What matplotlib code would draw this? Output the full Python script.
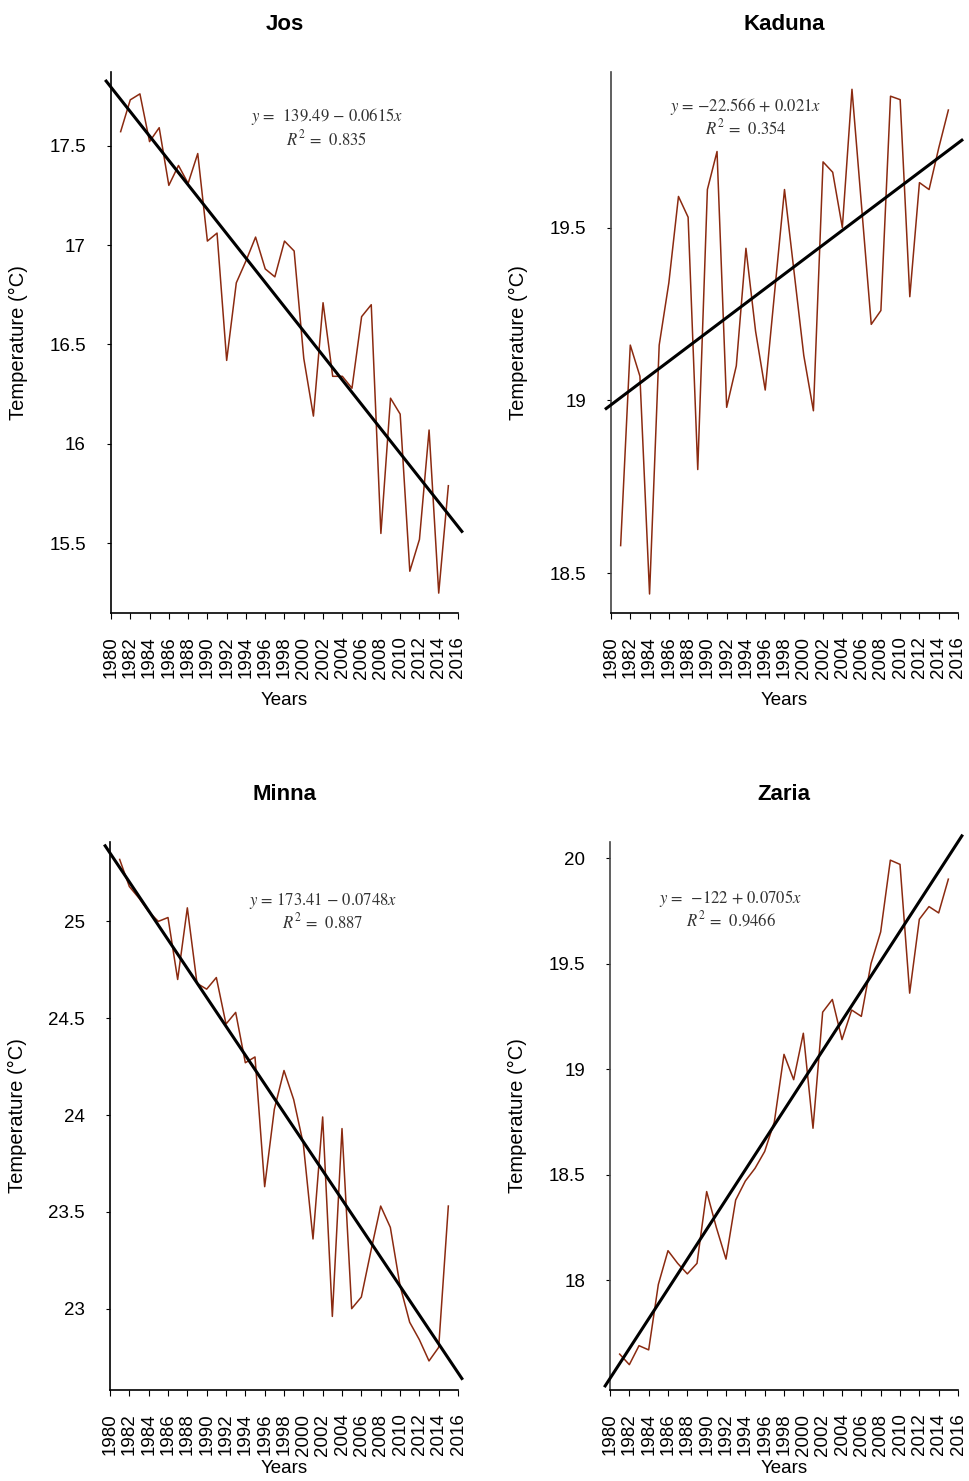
import numpy as np
import matplotlib
matplotlib.use("Agg")
import matplotlib.pyplot as plt
from matplotlib.ticker import FuncFormatter

plt.rcParams['font.family'] = ['Liberation Sans', 'DejaVu Sans']
plt.rcParams['mathtext.fontset'] = 'stix'

years = list(range(1981, 2016))
tick_years = list(range(1980, 2017, 2))

jos = [17.57, 17.73, 17.76, 17.52, 17.59, 17.30, 17.40, 17.31, 17.46, 17.02,
       17.06, 16.42, 16.81, 16.92, 17.04, 16.88, 16.84, 17.02, 16.97, 16.43,
       16.14, 16.71, 16.34, 16.34, 16.28, 16.64, 16.70, 15.55, 16.23, 16.15,
       15.36, 15.52, 16.07, 15.25, 15.79]

kaduna = [18.58, 19.16, 19.07, 18.44, 19.16, 19.34, 19.59, 19.53, 18.80, 19.61,
          19.72, 18.98, 19.10, 19.44, 19.20, 19.03, 19.32, 19.61, 19.37, 19.13,
          18.97, 19.69, 19.66, 19.50, 19.90, 19.56, 19.22, 19.26, 19.88, 19.87,
          19.30, 19.63, 19.61, 19.73, 19.84]

minna = [25.32, 25.18, 25.12, 25.05, 25.00, 25.02, 24.70, 25.07, 24.68, 24.65,
         24.71, 24.47, 24.53, 24.27, 24.30, 23.63, 24.03, 24.23, 24.08, 23.85,
         23.36, 23.99, 22.96, 23.93, 23.00, 23.06, 23.30, 23.53, 23.42, 23.12,
         22.93, 22.84, 22.73, 22.80, 23.53]

zaria = [17.65, 17.60, 17.69, 17.67, 17.98, 18.14, 18.08, 18.03, 18.08, 18.42,
         18.25, 18.10, 18.38, 18.47, 18.53, 18.61, 18.75, 19.07, 18.95, 19.17,
         18.72, 19.27, 19.33, 19.14, 19.28, 19.25, 19.50, 19.65, 19.99, 19.97,
         19.36, 19.71, 19.77, 19.74, 19.90]

titles = ["Jos", "Kaduna", "Minna", "Zaria"]
series = [jos, kaduna, minna, zaria]
equations = [r"$y$ =  139.49 − 0.0615$x$" + "\n" + r"$R^2$ =  0.835",
             r"$y$ = −22.566 + 0.021$x$" + "\n" + r"$R^2$ =  0.354",
             r"$y$ = 173.41 − 0.0748$x$" + "\n" + r"$R^2$ =  0.887",
             r"$y$ =  −122 + 0.0705$x$" + "\n" + r"$R^2$ =  0.9466"]
eq_pos = [(2002.4, 17.59), (1994.0, 19.82), (2002.0, 25.05), (1992.5, 19.76)]
ylims = [(15.15, 17.87), (18.385, 19.95), (22.58, 25.41), (17.48, 20.076)]
yticks = [[15.5, 16, 16.5, 17, 17.5], [18.5, 19, 19.5],
          [23, 23.5, 24, 24.5, 25], [18, 18.5, 19, 19.5, 20]]

W, H = 969, 1481
fig = plt.figure(figsize=(W / 100, H / 100), dpi=100)

# pixel boxes: left, top, right, bottom
boxes = [(111, 72, 458, 613), (611, 72, 958, 613),
         (110, 842, 458, 1390), (610, 842, 958, 1390)]

line_color = '#8B2A10'

for i, (title, vals) in enumerate(zip(titles, series)):
    l, t, r, b = boxes[i]
    ax = fig.add_axes([l / W, (H - b) / H, (r - l) / W, (b - t) / H])
    x = np.array(years, dtype=float)
    y = np.array(vals)
    ax.plot(x, y, color=line_color, lw=1.1, zorder=3)
    coef = np.polyfit(x, y, 1)
    xt = np.array([1979.5, 2016.4])
    ax.plot(xt, np.polyval(coef, xt), color='black', lw=2.2, zorder=4,
            clip_on=False)
    ax.set_xlim(1980, 2016)
    ax.set_ylim(*ylims[i])
    ax.set_xticks(tick_years)
    ax.set_xticklabels([str(v) for v in tick_years], rotation=90,
                       fontsize=13.5)
    ax.set_yticks(yticks[i])
    ax.yaxis.set_major_formatter(FuncFormatter(lambda v, p: f"{v:g}"))
    ax.tick_params(axis='y', labelsize=13.5, length=3, pad=15, direction='out')
    ax.tick_params(axis='x', length=4, pad=13, direction='out')
    for s in ['top', 'right']:
        ax.spines[s].set_visible(False)
    spc = 'black' if i in (0, 2) else '#444444'
    ax.spines['left'].set_color(spc)
    ax.spines['bottom'].set_color('black')
    ax.spines['left'].set_linewidth(1.2)
    ax.spines['bottom'].set_linewidth(1.2)
    ax.set_title(title, fontsize=16, fontweight='bold', pad=30)
    ax.set_xlabel("Years", fontsize=13.5)
    ax.set_ylabel("Temperature (°C)", fontsize=14.5)
    ax.yaxis.set_label_coords(-0.238, 0.5)
    ax.xaxis.set_label_coords(0.5, -0.146 if i < 2 else -0.128)
    ax.text(eq_pos[i][0], eq_pos[i][1], equations[i], ha='center',
            va='center', fontsize=12, color='#333333',
            family='STIXGeneral', linespacing=1.1)

fig.savefig("out.png", dpi=100)
